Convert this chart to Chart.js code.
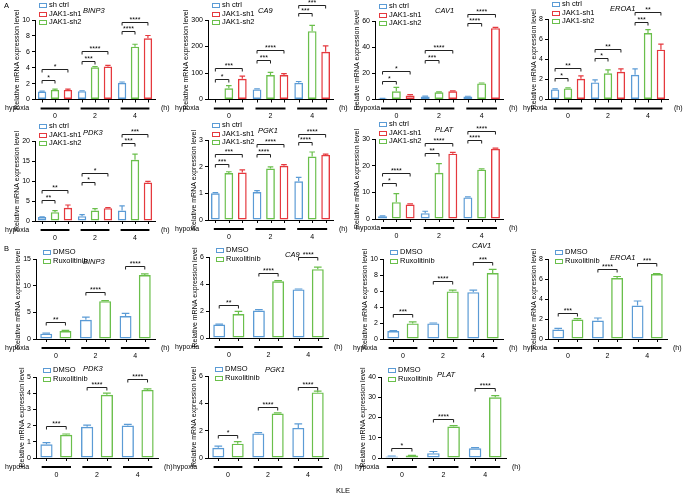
<!DOCTYPE html>
<html>
<head>
<meta charset="utf-8">
<script src="https://cdn.jsdelivr.net/npm/chart.js@4.4.0/dist/chart.umd.min.js"></script>
<style>
  html, body { margin: 0; padding: 0; background: #fff; }
  #wrap { position: relative; width: 685px; height: 496px; overflow: hidden; }
  #wrap canvas { position: absolute; left: 0; top: 0; }
</style>
</head>
<body>
<div id="wrap"></div>
<script>
const hours = ['0', '2', '4'];

// bar order inside each group (legend order differs for A)
const seriesA = ['sh ctrl', 'JAK1-sh2', 'JAK1-sh1'];
const legendOrderA = [0, 2, 1];
const colorsA = ['#5b9bd5', '#6abf4b', '#e5393e'];
const seriesB = ['DMSO', 'Ruxolitinib'];
const colorsB = ['#5b9bd5', '#6abf4b'];

// significance: [group, bar compared with sh ctrl/DMSO, height, label]
// --- A: JAK1 knockdown ---
const binp3A = [[1.0, 1.05, 2.1], [1.2, 4.05, 6.65], [1.2, 4.15, 7.7]];
const binp3A_sd = [[0.05, 0.05, 0.1], [0.1, 0.1, 0.3], [0.1, 0.15, 0.35]];
const binp3A_sig = [[0, 1, 2.5, '*'], [0, 2, 3.8, '*'], [1, 1, 4.85, '***'], [1, 2, 6.1, '****'], [2, 1, 8.6, '****'], [2, 2, 9.8, '****']];

const ca9A = [[1, 38, 63], [42, 92, 258], [78, 92, 180]];
const ca9A_sd = [[0, 2, 5], [10, 10, 22], [10, 6, 22]];
const ca9A_sig = [[0, 1, 79, '*'], [0, 2, 117, '***'], [1, 1, 149, '***'], [1, 2, 186, '****'], [2, 1, 325, '***'], [2, 2, 357, '***']];

const cav1A = [[0.8, 2.3, 2.3], [6.3, 5.5, 12.3], [3.0, 6.3, 54.5]];
const cav1A_sd = [[0.1, 0.3, 0.2], [3, 0.3, 0.3], [0.8, 0.3, 0.6]];
const cav1A_sig = [[0, 1, 14.2, '*'], [0, 2, 21.8, '*'], [1, 1, 30, '***'], [1, 2, 37.6, '****'], [2, 1, 58.4, '****'], [2, 2, 65.5, '****']];

const eroa1A = [[1.0, 1.7, 2.45], [1.1, 2.6, 6.6], [2.05, 2.75, 4.95]];
const eroa1A_sd = [[0.05, 0.25, 0.6], [0.05, 0.35, 0.35], [0.3, 0.3, 0.55]];
const eroa1A_sig = [[0, 1, 2.15, '*'], [0, 2, 3.15, '**'], [1, 1, 4.1, '*'], [1, 2, 5.0, '**'], [2, 1, 7.75, '***'], [2, 2, 8.65, '**']];

const pdk3A = [[1.0, 1.2, 2.6], [2.2, 2.6, 15.3], [3.3, 3.2, 9.6]];
const pdk3A_sd = [[0.05, 0.4, 1.2], [0.4, 0.5, 1.4], [0.7, 0.15, 0.3]];
const pdk3A_sig = [[0, 1, 5.3, '**'], [0, 2, 7.8, '**'], [1, 1, 9.7, '*'], [1, 2, 12.1, '*'], [2, 1, 19.5, '***'], [2, 2, 21.8, '***']];

const pgk1A = [[1.0, 1.05, 1.45], [1.76, 1.93, 2.38], [1.78, 2.03, 2.44]];
const pgk1A_sd = [[0.03, 0.05, 0.15], [0.05, 0.06, 0.17], [0.1, 0.05, 0.03]];
const pgk1A_sig = [[0, 1, 2.11, '***'], [0, 2, 2.46, '***'], [1, 1, 2.48, '****'], [1, 2, 2.86, '****'], [2, 1, 2.92, '****'], [2, 2, 3.22, '****']];

const platA = [[1.0, 2.2, 8.1], [6.3, 17.3, 18.5], [5.4, 24.5, 26.3]];
const platA_sd = [[0.2, 0.7, 0.2], [3.2, 3.5, 0.3], [0.3, 0.5, 0.3]];
const platA_sig = [[0, 1, 13.6, '*'], [0, 2, 17.4, '****'], [1, 1, 24.9, '**'], [1, 2, 28.6, '****'], [2, 1, 29.5, '****'], [2, 2, 33, '****']];

// --- B: Ruxolitinib ---
const binp3B = [[1.0, 3.6, 4.3], [1.5, 7.1, 12.0]];
const binp3B_sd = [[0.1, 0.5, 0.5], [0.1, 0.1, 0.2]];
const binp3B_sig = [[0, 1, 3.1, '**'], [1, 1, 8.75, '****'], [2, 1, 13.75, '****']];

const ca9B = [[1.0, 2.03, 3.6], [1.77, 4.2, 5.1]];
const ca9B_sd = [[0.03, 0.07, 0.03], [0.2, 0.05, 0.15]];
const ca9B_sig = [[0, 1, 2.45, '**'], [1, 1, 4.8, '****'], [2, 1, 6.0, '****']];

const cav1B = [[1.0, 1.95, 5.85], [1.95, 5.95, 8.25]];
const cav1B_sd = [[0.05, 0.05, 0.25], [0.2, 0.15, 0.45]];
const cav1B_sig = [[0, 1, 3.1, '***'], [1, 1, 7.3, '****'], [2, 1, 9.6, '***']];

const eroa1B = [[0.95, 1.85, 3.35], [1.95, 6.1, 6.5]];
const eroa1B_sd = [[0.12, 0.25, 0.45], [0.08, 0.15, 0.05]];
const eroa1B_sig = [[0, 1, 2.65, '***'], [1, 1, 7.0, '****'], [2, 1, 7.6, '***']];

const pdk3B = [[0.85, 1.93, 2.0], [1.43, 3.9, 4.2]];
const pdk3B_sd = [[0.1, 0.1, 0.08], [0.05, 0.1, 0.07]];
const pdk3B_sig = [[0, 1, 1.95, '***'], [1, 1, 4.4, '****'], [2, 1, 4.9, '****']];

const pgk1B = [[0.75, 1.8, 2.2], [1.05, 3.25, 4.8]];
const pgk1B_sd = [[0.12, 0.06, 0.3], [0.15, 0.05, 0.1]];
const pgk1B_sig = [[0, 1, 1.7, '*'], [1, 1, 3.7, '****'], [2, 1, 5.2, '****']];

const platB = [[0.8, 2.4, 4.8], [1.2, 15.5, 30]];
const platB_sd = [[0.2, 0.8, 0.3], [0.1, 0.5, 0.8]];
const platB_sig = [[0, 1, 5.1, '*'], [1, 1, 19.3, '****'], [2, 1, 34.5, '****']];

// layout: box = [axis left, axis right, top tick px, zero px]
const panels = [
  { gene: 'BINP3', set: 'A', mean: binp3A, sd: binp3A_sd, sig: binp3A_sig, max: 10, step: 2, box: [35, 155, 20, 99.5], title: [83, 11], hyp: 5 },
  { gene: 'CA9', set: 'A', mean: ca9A, sd: ca9A_sd, sig: ca9A_sig, max: 300, step: 100, box: [208, 333, 20, 99.5], title: [258, 11], hyp: 175 },
  { gene: 'CAV1', set: 'A', mean: cav1A, sd: cav1A_sd, sig: cav1A_sig, max: 60, step: 20, box: [375, 503, 21, 99.5], title: [435, 11], hyp: 356 },
  { gene: 'EROA1', set: 'A', mean: eroa1A, sd: eroa1A_sd, sig: eroa1A_sig, max: 8, step: 2, box: [548, 668, 19, 99.5], title: [610, 9], hyp: 523 },
  { gene: 'PDK3', set: 'A', mean: pdk3A, sd: pdk3A_sd, sig: pdk3A_sig, max: 20, step: 5, box: [35, 155, 141, 221], title: [83, 133], hyp: 5 },
  { gene: 'PGK1', set: 'A', mean: pgk1A, sd: pgk1A_sd, sig: pgk1A_sig, max: 3, step: 1, box: [208, 333, 140, 220], title: [258, 131], hyp: 175 },
  { gene: 'PLAT', set: 'A', mean: platA, sd: platA_sd, sig: platA_sig, max: 30, step: 10, box: [375, 503, 139, 219], title: [435, 130], hyp: 356 },
  { gene: 'BINP3', set: 'B', mean: binp3B, sd: binp3B_sd, sig: binp3B_sig, max: 15, step: 5, box: [36, 155, 259, 339], title: [83, 262], hyp: 5 },
  { gene: 'CA9', set: 'B', mean: ca9B, sd: ca9B_sd, sig: ca9B_sig, max: 6, step: 2, box: [209, 328, 257, 338], title: [285, 255], hyp: 175 },
  { gene: 'CAV1', set: 'B', mean: cav1B, sd: cav1B_sd, sig: cav1B_sig, max: 10, step: 2, box: [383, 503, 259, 339], title: [472, 246], hyp: 353 },
  { gene: 'EROA1', set: 'B', mean: eroa1B, sd: eroa1B_sd, sig: eroa1B_sig, max: 8, step: 2, box: [548, 667, 259, 339], title: [610, 258], hyp: 523 },
  { gene: 'PDK3', set: 'B', mean: pdk3B, sd: pdk3B_sd, sig: pdk3B_sig, max: 5, step: 1, box: [36, 158, 377, 458], title: [83, 369], hyp: 5 },
  { gene: 'PGK1', set: 'B', mean: pgk1B, sd: pgk1B_sd, sig: pgk1B_sig, max: 6, step: 2, box: [208, 328, 376, 458], title: [265, 370], hyp: 173 },
  { gene: 'PLAT', set: 'B', mean: platB, sd: platB_sd, sig: platB_sig, max: 40, step: 10, box: [381, 506, 377, 458], title: [437, 375], hyp: 355 }
];

const FONT = "'Liberation Sans', Arial, sans-serif";
const W = 685, H = 496;

const decor = {
  id: 'decor',
  afterDraw(chart, args, opts) {
    const p = opts.panel;
    if (!p) return;
    const { ctx, chartArea: a } = chart;
    const y = chart.scales.y, x = chart.scales.x;
    const bars = chart.data.datasets.map((ds, i) => chart.getDatasetMeta(i).data);
    ctx.save();

    // error bars (mean + SD)
    chart.data.datasets.forEach((ds, i) => {
      bars[i].forEach((b, j) => {
        const sd = p.sd[i][j];
        if (!sd) return;
        const y0 = y.getPixelForValue(p.mean[i][j]);
        const y1 = y.getPixelForValue(p.mean[i][j] + sd);
        const cw = b.width * 0.32;
        ctx.strokeStyle = ds.borderColor;
        ctx.lineWidth = 1.2;
        ctx.beginPath();
        ctx.moveTo(b.x, y0); ctx.lineTo(b.x, y1);
        ctx.moveTo(b.x - cw, y1); ctx.lineTo(b.x + cw, y1);
        ctx.stroke();
      });
    });

    // small ticks under each bar
    ctx.strokeStyle = '#000';
    ctx.lineWidth = 1;
    ctx.beginPath();
    bars.forEach(list => list.forEach(b => {
      ctx.moveTo(Math.round(b.x) + 0.5, a.bottom);
      ctx.lineTo(Math.round(b.x) + 0.5, a.bottom + 3);
    }));
    ctx.stroke();

    // group lines + hour labels
    const catW = (a.right - a.left) / hours.length;
    ctx.fillStyle = '#000';
    ctx.font = '7px ' + FONT;
    ctx.textAlign = 'center';
    ctx.textBaseline = 'middle';
    hours.forEach((h, j) => {
      const c = x.getPixelForValue(j);
      ctx.lineWidth = 2;
      ctx.beginPath();
      ctx.moveTo(c - catW * 0.36, a.bottom + 9);
      ctx.lineTo(c + catW * 0.36, a.bottom + 9);
      ctx.stroke();
      ctx.fillText(h, c, a.bottom + 17);
    });
    ctx.textAlign = 'left';
    ctx.fillText('hypoxia', p.hyp, a.bottom + 9);
    ctx.fillText('(h)', a.right + 6, a.bottom + 9);

    // significance brackets
    ctx.lineWidth = 1;
    ctx.strokeStyle = '#222';
    ctx.textAlign = 'center';
    ctx.textBaseline = 'alphabetic';
    p.sig.forEach(([g, k, v, lab]) => {
      const x1 = bars[0][g].x, x2 = bars[k][g].x;
      const yy = Math.round(y.getPixelForValue(v)) + 0.5;
      ctx.beginPath();
      ctx.moveTo(x1, yy + 3); ctx.lineTo(x1, yy); ctx.lineTo(x2, yy); ctx.lineTo(x2, yy + 3);
      ctx.stroke();
      ctx.fillText(lab, (x1 + x2) / 2, yy - 1);
    });

    // y axis title
    const tickW = Math.max(...y.ticks.map(t => ctx.measureText(String(t.value)).width));
    ctx.save();
    ctx.translate(a.left - tickW - 10, (a.top + a.bottom) / 2);
    ctx.rotate(-Math.PI / 2);
    ctx.textBaseline = 'middle';
    ctx.fillText('Relative mRNA expression level', 0, 0);
    ctx.restore();

    // legend
    const order = p.set === 'A' ? legendOrderA : [0, 1];
    const lx = a.left + (p.set === 'A' ? 4 : 7);
    const ly = a.top + (p.set === 'A' ? -15 : -7);
    const step = p.set === 'A' ? 8.5 : 8.5;
    ctx.font = '7.5px ' + FONT;
    ctx.textAlign = 'left';
    ctx.textBaseline = 'middle';
    order.forEach((i, r) => {
      const ds = chart.data.datasets[i];
      const yy = ly + r * step;
      ctx.strokeStyle = ds.borderColor;
      ctx.lineWidth = 1;
      ctx.strokeRect(lx + 0.5, Math.round(yy - 2) + 0.5, 7, 4);
      ctx.fillStyle = '#000';
      ctx.fillText(ds.label, lx + 10, yy);
    });

    // gene title
    ctx.font = 'italic 7.5px ' + FONT;
    ctx.fillText(p.gene, p.title[0], p.title[1]);
    ctx.restore();
  }
};

const wrap = document.getElementById('wrap');

panels.forEach(p => {
  const cv = document.createElement('canvas');
  cv.width = W; cv.height = H;
  wrap.appendChild(cv);
  const names = p.set === 'A' ? seriesA : seriesB;
  const cols = p.set === 'A' ? colorsA : colorsB;
  new Chart(cv, {
    type: 'bar',
    data: {
      labels: hours,
      datasets: names.map((n, i) => ({
        label: n,
        data: p.mean[i],
        borderColor: cols[i],
        backgroundColor: 'rgba(255,255,255,0)',
        borderWidth: 1.4,
        borderSkipped: false,
        categoryPercentage: 0.97,
        barPercentage: p.set === 'A' ? 0.65 : 0.62
      }))
    },
    options: {
      responsive: false,
      animation: false,
      devicePixelRatio: 1,
      layout: { padding: { left: p.box[0] - 34, right: W - p.box[1], top: p.box[2], bottom: H - p.box[3] } },
      plugins: { legend: { display: false }, tooltip: { enabled: false }, decor: { panel: p } },
      scales: {
        x: {
          grid: { display: false },
          border: { display: true, color: '#000', width: 1 },
          ticks: { display: false },
          afterFit(s) { s.height = 0; }
        },
        y: {
          min: 0, max: p.max,
          ticks: { stepSize: p.step, color: '#000', padding: 2, font: { size: 7, family: FONT } },
          grid: { display: true, drawOnChartArea: false, drawTicks: true, tickLength: 3, color: '#000' },
          border: { display: true, color: '#000', width: 1 },
          afterFit(s) { s.width = 34; }
        }
      }
    },
    plugins: [decor]
  });
});

// panel letters and cell line label
const lab = document.createElement('canvas');
lab.width = W; lab.height = H;
wrap.appendChild(lab);
const lc = lab.getContext('2d');
lc.font = '7.5px ' + FONT;
lc.fillStyle = '#000';
lc.textBaseline = 'middle';
lc.fillText('A', 4, 6);
lc.fillText('B', 4, 249);
lc.textAlign = 'center';
lc.fillText('KLE', 343, 491);
</script>
</body>
</html>
